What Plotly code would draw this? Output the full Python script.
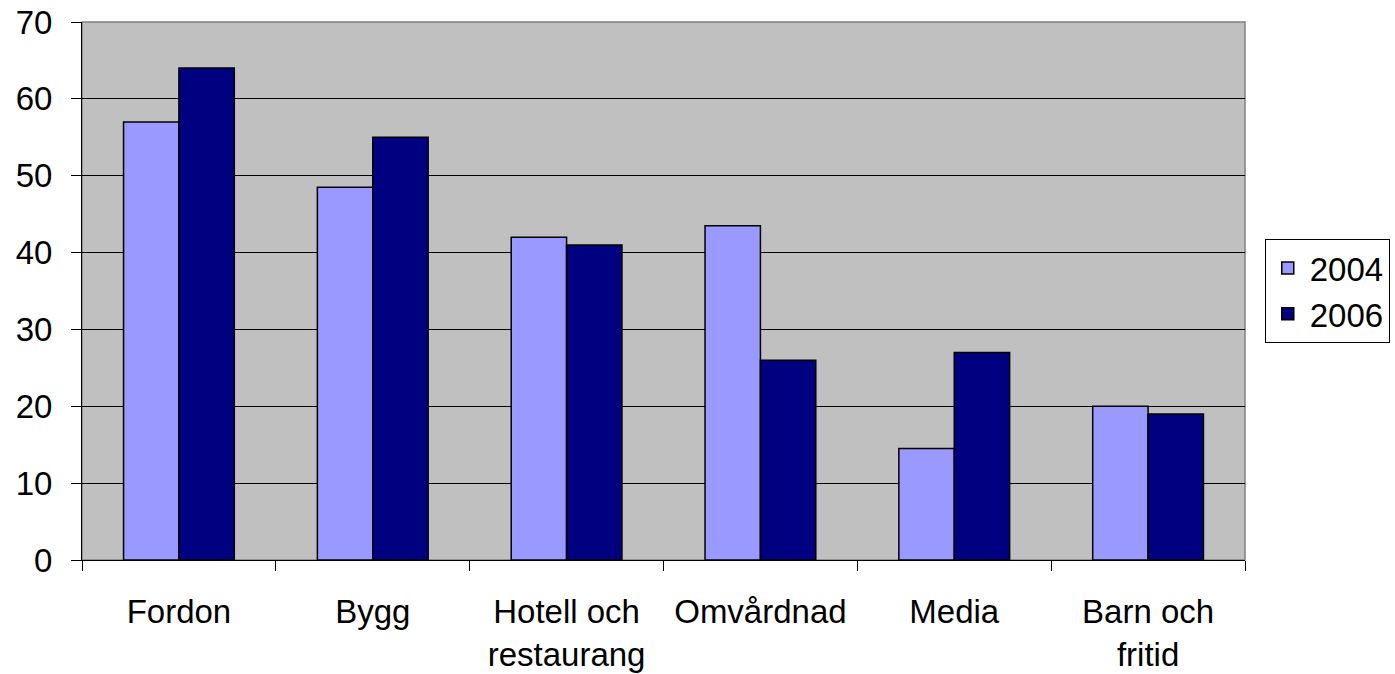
import plotly.graph_objects as go

# Data
categories = ["Fordon", "Bygg", "Hotell och<br>restaurang", "Omvårdnad", "Media", "Barn och<br>fritid"]
values_2004 = [57, 48.5, 42, 43.5, 14.5, 20]
values_2006 = [64, 55, 41, 26, 27, 19]
y_ticks = [0, 10, 20, 30, 40, 50, 60, 70]

FONT = "Liberation Sans, Arial, sans-serif"

fig = go.Figure()

fig.add_trace(go.Bar(
    x=categories, y=values_2004, name="2004", legendgroup="a",
    marker=dict(color="#9999FF", line=dict(color="black", width=1.5)),
))
fig.add_trace(go.Bar(
    x=categories, y=values_2006, name="2006", legendgroup="b",
    marker=dict(color="#000080", line=dict(color="black", width=1.5)),
))

# grey frame on top/right of the plot area
fig.add_shape(type="rect", xref="paper", yref="paper", x0=0, y0=0, x1=1, y1=1,
              line=dict(color="#808080", width=1.5), layer="below")

fig.update_layout(
    width=1395, height=674,
    margin=dict(l=82, r=150, t=22, b=114, autoexpand=False),
    barmode="group",
    bargap=0.4286,
    bargroupgap=0,
    plot_bgcolor="#C0C0C0",
    paper_bgcolor="white",
    font=dict(family=FONT, size=33, color="black"),
    showlegend=True,
    legend=dict(
        x=1.017, y=0.5, xanchor="left", yanchor="middle",
        bordercolor="black", borderwidth=1,
        font=dict(size=33), tracegroupgap=0,
        itemwidth=34,
        bgcolor="white",
    ),
    xaxis=dict(
        type="category", tickson="boundaries",
        ticks="outside", ticklen=10, tickcolor="black",
        showline=True, linecolor="black", linewidth=1,
        showgrid=False, tickfont=dict(size=33),
        ticklabelstandoff=22, automargin=False,
    ),
    yaxis=dict(
        range=[0, 70], tickvals=y_ticks,
        ticks="outside", ticklen=10, tickcolor="black",
        showline=True, linecolor="black", linewidth=1,
        showgrid=True, gridcolor="black", gridwidth=1,
        zeroline=False, tickfont=dict(size=33),
        ticklabelstandoff=12, ticklabeloverflow="allow",
        automargin=False,
    ),
)

# drop the default page margin so the figure sits at the window's corner
fig.write_html("out.html", config={"displayModeBar": False},
               post_script="document.body.style.margin='0';")
